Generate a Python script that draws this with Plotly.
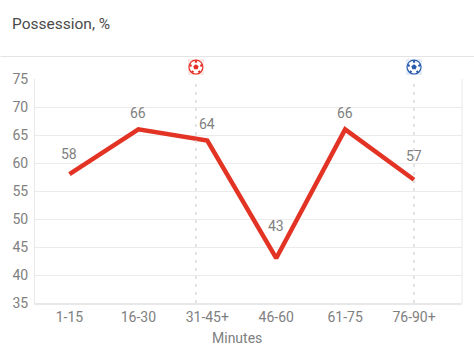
import base64
import plotly.graph_objects as go

categories = ["1-15", "16-30", "31-45+", "46-60", "61-75", "76-90+"]
possession = [58, 66, 64, 43, 66, 57]
label_shift = [20, 16, 17, 32, 16, 24]
goal_positions = [1.835, 5.0]
goal_colors = ["#e53027", "#2a5cb0"]
y_ticks = [35, 40, 45, 50, 55, 60, 65, 70, 75]

W, H = 474, 356
L, R, T, B = 34.5, 462, 79, 303.5
x_range = [-0.5, 5.696]


def ball(color):
    svg = (
        '<svg xmlns="http://www.w3.org/2000/svg" viewBox="0 0 16 16" width="16" height="16">'
        '<rect width="16" height="16" fill="%s" fill-opacity="0.12"/>'
        '<circle cx="8" cy="8" r="7" fill="white" stroke="%s" stroke-width="1.2"/>'
        '<polygon points="8,5.2 10.7,7.2 9.7,10.3 6.3,10.3 5.3,7.2" fill="%s"/>'
        '<path d="M8 1.2 L8 3.6 M1.5 6 L3.6 7 M14.5 6 L12.4 7 M4 13.6 L5.2 11.8 M12 13.6 L10.8 11.8" '
        'stroke="%s" stroke-width="2.2"/></svg>' % (color, color, color, color)
    )
    return "data:image/svg+xml;base64," + base64.b64encode(svg.encode()).decode()


fig = go.Figure()
fig.add_trace(go.Scatter(
    x=list(range(len(categories))), y=possession, mode="lines",
    line=dict(color="#e23324", width=4.5, shape="linear"),
    hoverinfo="skip", showlegend=False,
))

for v, c, s in zip(range(len(categories)), possession, label_shift):
    fig.add_annotation(x=v, y=c, text=str(c), showarrow=False, yshift=s,
                       font=dict(family="Roboto", size=14, color="#808080"))

for g, col in zip(goal_positions, goal_colors):
    fig.add_shape(type="line", x0=g, x1=g, yref="paper", y0=0, y1=1.0,
                  line=dict(color="#c8c8c8", width=1, dash="3px,5px"))
    fig.add_layout_image(source=ball(col), xref="x", yref="paper", x=g,
                         y=(B - 67) / (B - T), sizex=0.235,
                         sizey=16 / (B - T), xanchor="center", yanchor="middle",
                         sizing="contain", layer="above")

fig.add_shape(type="line", xref="paper", yref="paper",
              x0=-L / (R - L), x1=(W - L) / (R - L),
              y0=(B - 56.5) / (B - T), y1=(B - 56.5) / (B - T),
              line=dict(color="#e3e3e3", width=1))
fig.add_shape(type="line", xref="paper", yref="paper", x0=1, x1=1, y0=0, y1=1,
              line=dict(color="#e8e8e8", width=1))

fig.add_annotation(xref="paper", yref="paper", x=(9 - L) / (R - L),
                   y=(B - 24) / (B - T), xanchor="left", yanchor="middle",
                   text="Possession, %", showarrow=False,
                   font=dict(family="Roboto", size=15.5, color="#4a4a4a"))
fig.add_annotation(xref="paper", yref="paper", x=(237 - L) / (R - L),
                   y=(B - 339) / (B - T), xanchor="center", yanchor="middle",
                   text="Minutes", showarrow=False,
                   font=dict(family="Roboto", size=14, color="#808080"))

fig.update_layout(
    width=W, height=H, autosize=False,
    margin=dict(l=L, r=W - R, t=T, b=H - B, pad=0),
    paper_bgcolor="white", plot_bgcolor="white", showlegend=False,
    xaxis=dict(range=x_range, tickmode="array", tickvals=list(range(len(categories))),
               ticktext=categories, showgrid=False, zeroline=False,
               showline=True, linecolor="#e8e8e8", linewidth=2, automargin=False,
               ticks="", tickfont=dict(family="Roboto", size=14, color="#808080")),
    yaxis=dict(range=[35, 75], tickmode="array", tickvals=y_ticks, automargin=False,
               showgrid=True, gridcolor="#ebebeb", gridwidth=1, zeroline=False,
               showline=True, linecolor="#e8e8e8", linewidth=1,
               ticks="outside", ticklen=3, tickcolor="rgba(0,0,0,0)",
               tickfont=dict(family="Roboto", size=14, color="#808080")),
)
fig.write_html("out.html", config=dict(displayModeBar=False),
               post_script="document.body.style.margin='0';")
